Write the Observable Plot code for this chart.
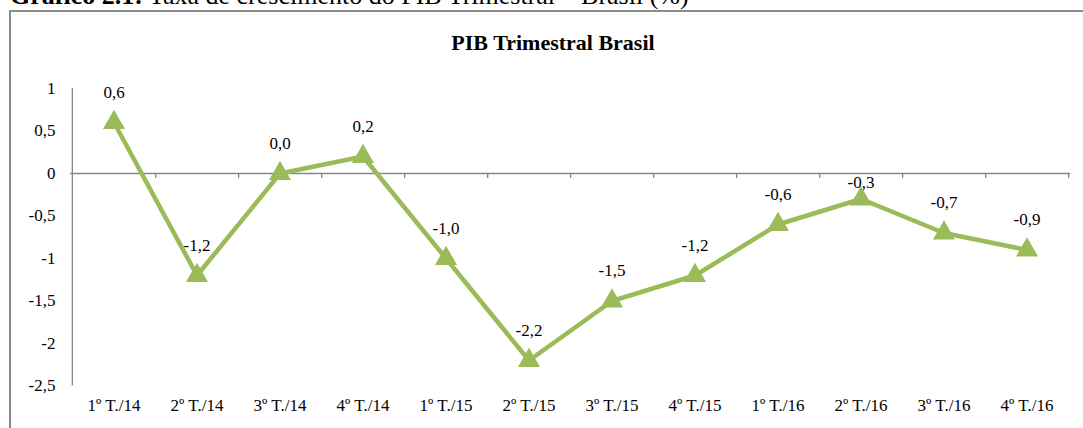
<!DOCTYPE html>
<html>
<head>
<meta charset="utf-8">
<script src="https://cdn.jsdelivr.net/npm/d3@7"></script>
<script src="https://cdn.jsdelivr.net/npm/@observablehq/plot@0.6"></script>
<style>
  html, body { margin: 0; padding: 0; background: #fff; }
  #wrap { position: relative; width: 1083px; height: 428px; overflow: hidden; font-family: "Liberation Serif", "Times New Roman", serif; color: #000; }
  #figtitle { position: absolute; left: 10px; top: -17px; font-size: 26px; line-height: 1; white-space: nowrap; }
  #frame { position: absolute; left: 9px; top: 10px; width: 1200px; height: 600px; border: 2px solid #8c8c8c; box-sizing: border-box; }
  #charttitle { position: absolute; left: 553px; top: 32px; transform: translateX(-50%); font-family: "Liberation Serif", serif; font-size: 22px; font-weight: bold; line-height: 1; white-space: nowrap; }
  #chart { position: absolute; left: 0; top: 0; }
  #chart svg, #chart svg text { font-family: "Liberation Serif", "Times New Roman", serif !important; }
</style>
</head>
<body>
<div id="wrap">
  <div id="figtitle"><b>Gráfico 2.1:</b> Taxa de crescimento do PIB Trimestral – Brasil (%)</div>
  <div id="frame"></div>
  <div id="charttitle">PIB Trimestral Brasil</div>
  <div id="chart"></div>
</div>
<script>
const categories = ["1º T./14","2º T./14","3º T./14","4º T./14","1º T./15","2º T./15","3º T./15","4º T./15","1º T./16","2º T./16","3º T./16","4º T./16"];
const values = [0.6, -1.2, 0.0, 0.2, -1.0, -2.2, -1.5, -1.2, -0.6, -0.3, -0.7, -0.9];
const yTicks = [1, 0.5, 0, -0.5, -1, -1.5, -2, -2.5];

const data = categories.map((c, i) => ({cat: c, v: values[i]}));
const green = "#9bbb59";
const axisGray = "#868686";
const serif = "'Liberation Serif', 'Times New Roman', serif";
const W = 1083, H = 428, mL = 70, mR = 13;
const step = (W - mL - mR) / categories.length;
const fmt = d => d.toFixed(1).replace(".", ",");

const chart = Plot.plot({
  width: W,
  height: H,
  marginLeft: mL,
  marginRight: mR,
  marginTop: 88,
  marginBottom: 42.5,
  style: "font-family: 'Liberation Serif', 'Times New Roman', serif; font-size: 17px; background: transparent; color: #000;",
  x: {type: "band", domain: categories, padding: 0},
  y: {domain: [-2.5, 1]},
  marks: [
    Plot.axisY({ticks: yTicks, tickSize: 0, tickPadding: 15, tickFormat: d => String(d).replace(".", ","), label: null, fontSize: 17, fontFamily: serif}),
    Plot.axisX({tickSize: 0, tickPadding: 13, label: null, fontSize: 17, fontFamily: serif}),
    Plot.ruleX([categories[0]], {y1: -2.5, y2: 1, dx: -step / 2, stroke: axisGray, strokeWidth: 1.3}),
    Plot.ruleY([0], {stroke: axisGray, strokeWidth: 1.3}),
    Plot.ruleX(categories, {y1: 0, y2: -0.06, dx: step / 2, stroke: axisGray, strokeWidth: 1.3}),
    Plot.line(data, {x: "cat", y: "v", stroke: green, strokeWidth: 4.5, strokeLinejoin: "miter"}),
    Plot.dot(data, {x: "cat", y: "v", symbol: "triangle", r: 8.2, fill: green, stroke: "none"}),
    Plot.text(data.filter(d => d.cat !== "2º T./16"), {x: "cat", y: "v", text: d => fmt(d.v), dy: -30, fontSize: 17, fontFamily: serif, fill: "#000"}),
    Plot.text(data.filter(d => d.cat === "2º T./16"), {x: "cat", y: "v", text: d => fmt(d.v), dy: -16, fontSize: 17, fontFamily: serif, fill: "#000"})
  ]
});
document.getElementById("chart").appendChild(chart);
</script>
</body>
</html>
